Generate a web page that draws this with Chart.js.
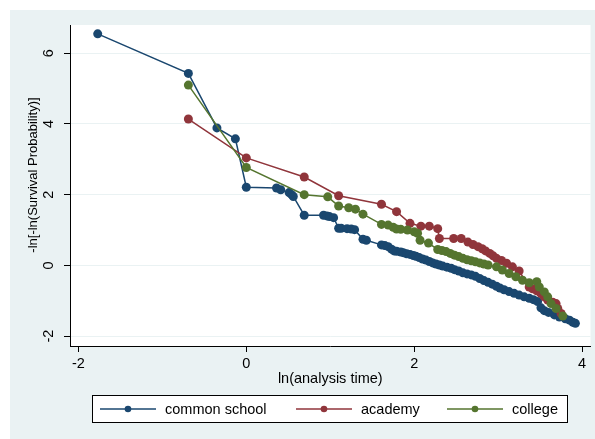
<!DOCTYPE html>
<html><head><meta charset="utf-8">
<script src="https://cdn.jsdelivr.net/npm/chart.js@4.4.0/dist/chart.umd.min.js"></script>
<style>html,body{margin:0;padding:0;background:#fff;}#wrap{width:595px;height:439px;position:relative;}</style>
</head><body><div id="wrap"><canvas id="c" width="595" height="439"></canvas></div>
<script>
const seriesNames = ['common school', 'academy', 'college'];
const xTicks = [-2, 0, 2, 4];
const yTicks = [-2, 0, 2, 4, 6];
const xTitle = 'ln(analysis time)';
const yTitle = '-ln[-ln(Survival Probability)]';

const commonX = [-1.77,-0.69,-0.35,-0.13,0.00,0.36,0.41,0.51,0.54,0.56,0.69,0.92,0.96,0.99,1.04,1.10,1.13,1.20,1.25,1.29,1.39,1.43,1.61,1.65,1.69,1.73,1.76,1.79,1.84,1.87,1.91,1.95,1.99,2.02,2.06,2.10,2.14,2.18,2.22,2.26,2.30,2.34,2.39,2.44,2.48,2.53,2.58,2.63,2.68,2.73,2.78,2.83,2.88,2.93,2.98,3.02,3.07,3.13,3.19,3.25,3.31,3.37,3.42,3.47,3.51,3.55,3.60,3.67,3.73,3.80,3.85,3.89,3.92];
const commonY = [6.55,5.43,3.89,3.58,2.21,2.19,2.14,2.06,2.00,1.95,1.42,1.42,1.40,1.38,1.35,1.05,1.05,1.04,1.03,1.01,0.74,0.71,0.58,0.56,0.53,0.46,0.41,0.40,0.38,0.36,0.33,0.31,0.28,0.26,0.22,0.18,0.15,0.11,0.07,0.04,0.01,-0.02,-0.05,-0.08,-0.12,-0.16,-0.21,-0.24,-0.27,-0.31,-0.37,-0.43,-0.48,-0.53,-0.59,-0.64,-0.69,-0.74,-0.79,-0.84,-0.89,-0.93,-0.97,-1.02,-1.20,-1.28,-1.33,-1.40,-1.46,-1.51,-1.55,-1.61,-1.64];

const academyX = [-0.69,0.00,0.69,1.10,1.61,1.79,1.95,2.08,2.18,2.28,2.30,2.47,2.56,2.64,2.70,2.76,2.81,2.85,2.90,2.94,2.98,3.04,3.10,3.17,3.25,3.37,3.41,3.46,3.51,3.55,3.59,3.65,3.69,3.71,3.75];
const academyY = [4.14,3.04,2.50,1.97,1.73,1.52,1.19,1.11,1.11,1.04,0.76,0.76,0.76,0.66,0.59,0.53,0.47,0.41,0.34,0.27,0.20,0.14,0.06,-0.04,-0.16,-0.61,-0.66,-0.72,-0.80,-0.89,-0.98,-1.04,-1.08,-1.22,-1.36];

const collegeX = [-0.69,0.00,0.69,0.97,1.10,1.22,1.30,1.39,1.61,1.69,1.75,1.79,1.84,1.92,2.00,2.04,2.07,2.17,2.28,2.33,2.38,2.43,2.48,2.53,2.58,2.63,2.68,2.73,2.78,2.83,2.88,2.98,3.05,3.13,3.21,3.29,3.37,3.46,3.49,3.55,3.59,3.63,3.69,3.77];
const collegeY = [5.10,2.77,2.00,1.94,1.68,1.63,1.59,1.45,1.16,1.14,1.08,1.03,1.02,1.00,0.95,0.91,0.71,0.63,0.45,0.42,0.39,0.34,0.29,0.25,0.20,0.16,0.13,0.10,0.07,0.04,0.01,-0.04,-0.13,-0.23,-0.32,-0.42,-0.49,-0.46,-0.61,-0.75,-0.89,-1.08,-1.22,-1.43];

const colors = ['#1a476f', '#90353b', '#55752f'];
const FONT = "'Liberation Sans', Arial, Helvetica, sans-serif";
const BG = '#eaf2f3';

function pts(xs, ys) { return xs.map((x, i) => ({x: x, y: ys[i]})); }

const bgPlugin = {
  id: 'bg',
  beforeDraw(chart) {
    const ctx = chart.ctx, a = chart.chartArea;
    ctx.save();
    ctx.fillStyle = '#ffffff';
    ctx.fillRect(0, 0, chart.width, chart.height);
    ctx.fillStyle = BG;
    ctx.fillRect(10, 10, chart.width - 10, chart.height - 10);
    ctx.fillStyle = '#ffffff';
    ctx.fillRect(a.left, a.top, a.right - a.left, a.bottom - a.top);
    ctx.restore();
  }
};

const decoPlugin = {
  id: 'deco',
  afterDraw(chart) {
    const ctx = chart.ctx;
    ctx.save();
    ctx.fillStyle = '#000';
    ctx.font = '13px ' + FONT;
    ctx.textAlign = 'center';
    ctx.textBaseline = 'middle';
    ctx.translate(33, 175);
    ctx.rotate(-Math.PI / 2);
    ctx.fillText(yTitle, 0, 0);
    ctx.restore();
    ctx.save();
    const bx = 92.5, by = 395.5, bw = 475, bh = 27;
    ctx.fillStyle = '#fff';
    ctx.fillRect(bx, by, bw, bh);
    ctx.strokeStyle = '#000';
    ctx.lineWidth = 1;
    ctx.strokeRect(bx, by, bw, bh);
    const starts = [100, 296, 447];
    const ly = 409;
    ctx.font = '14.5px ' + FONT;
    ctx.textBaseline = 'middle';
    ctx.textAlign = 'left';
    chart.data.datasets.forEach((ds, i) => {
      const sx = starts[i];
      ctx.strokeStyle = ds.borderColor;
      ctx.lineWidth = 1.5;
      ctx.beginPath(); ctx.moveTo(sx, ly); ctx.lineTo(sx + 56, ly); ctx.stroke();
      ctx.fillStyle = ds.backgroundColor;
      ctx.beginPath(); ctx.arc(sx + 28, ly, 3.3, 0, Math.PI * 2); ctx.fill();
      ctx.fillStyle = '#000';
      ctx.fillText(ds.label, sx + 65, ly + 1);
    });
    ctx.restore();
  }
};

const seriesData = [pts(commonX, commonY), pts(academyX, academyY), pts(collegeX, collegeY)];

new Chart(document.getElementById('c'), {
  type: 'line',
  data: {
    datasets: seriesNames.map((n, i) => ({
      label: n,
      data: seriesData[i],
      borderColor: colors[i],
      backgroundColor: colors[i],
      pointBackgroundColor: colors[i],
      pointBorderColor: colors[i],
      pointRadius: 4.5,
      pointBorderWidth: 0,
      borderWidth: 1.5,
      tension: 0,
      fill: false,
      order: 2 - i
    }))
  },
  options: {
    responsive: false,
    animation: false,
    devicePixelRatio: 1,
    layout: {padding: {left: 0, right: 4, top: 25, bottom: 0}},
    plugins: {legend: {display: false}, tooltip: {enabled: false}, title: {display: false}},
    scales: {
      x: {
        type: 'linear', min: -2.1, max: 4.1,
        afterFit(s) { s.height = 93; },
        afterBuildTicks(s) { s.ticks = xTicks.map(v => ({value: v})); },
        border: {display: true, color: '#000', width: 1},
        grid: {drawOnChartArea: false, tickLength: 6, tickColor: '#000'},
        ticks: {color: '#000', font: {family: FONT, size: 14.5}, padding: 3, maxRotation: 0, autoSkip: false},
        title: {display: true, text: xTitle, color: '#000', font: {family: FONT, size: 14.5}, padding: {top: 0, bottom: 51}}
      },
      y: {
        type: 'linear', min: -2.28, max: 6.8,
        afterFit(s) { s.width = 70; },
        afterBuildTicks(s) { s.ticks = yTicks.map(v => ({value: v})); },
        border: {display: true, color: '#000', width: 1},
        grid: {color: BG, lineWidth: 1, tickLength: 6, tickColor: '#000'},
        ticks: {color: '#000', font: {family: FONT, size: 14.5}, padding: 9, minRotation: 90, maxRotation: 90, crossAlign: 'center', autoSkip: false}
      }
    }
  },
  plugins: [bgPlugin, decoPlugin]
});
</script></body></html>
